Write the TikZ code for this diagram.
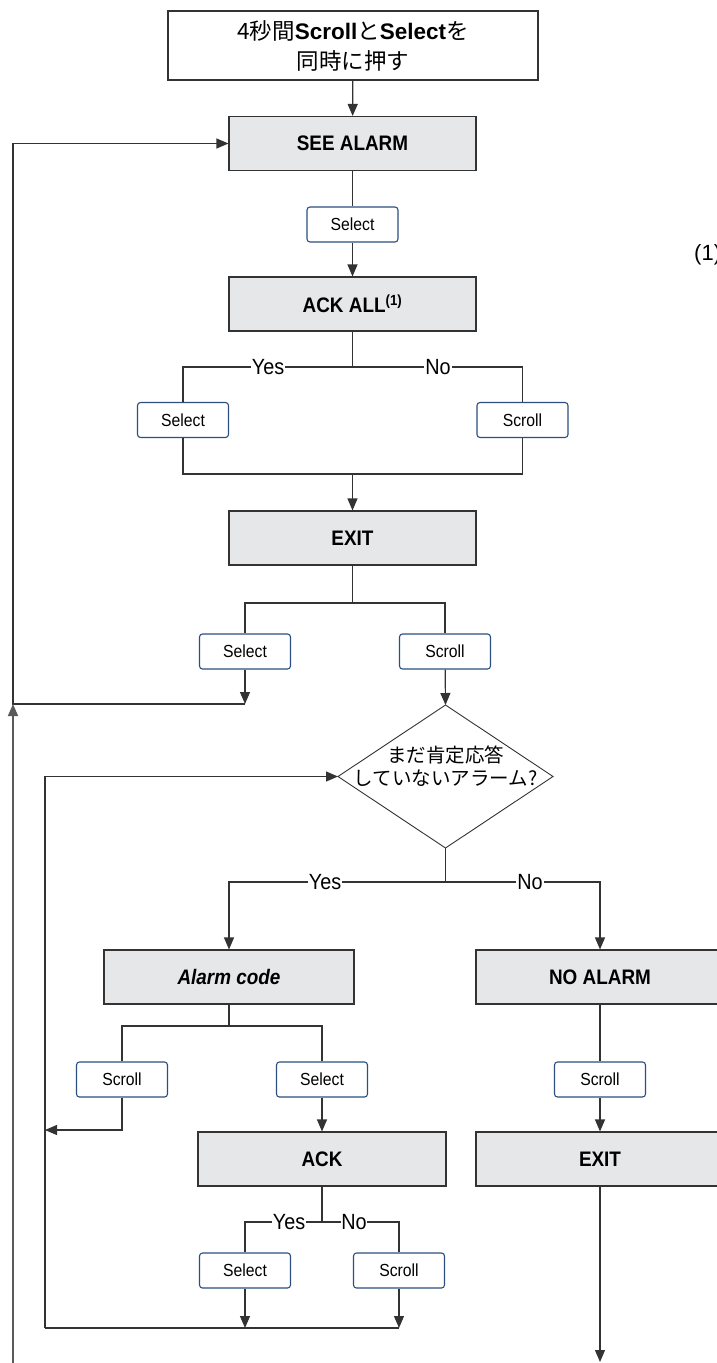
\documentclass[tikz,border=0pt]{standalone}
\usepackage{fontspec}
\setmainfont{Liberation Sans}[FakeStretch=0.9]
\newfontfamily\plainsans{Liberation Sans}
\newfontfamily\jp{Noto Sans CJK JP}
\usetikzlibrary{arrows.meta}
\definecolor{lineC}{HTML}{333333}
\definecolor{grayF}{HTML}{E6E7E8}
\definecolor{blueC}{HTML}{2B4F80}
\definecolor{outerC}{HTML}{5A5A5A}
\tikzset{
  proc/.style={rectangle, draw=lineC, fill=grayF, line width=1.1pt, minimum width=247pt, minimum height=54pt, inner sep=0pt, font=\fontsize{21}{25}\selectfont\bfseries},
  keybox/.style={rectangle, rounded corners=3pt, draw=blueC, fill=white, line width=1.1pt, minimum width=91pt, minimum height=35pt, inner sep=0pt, font=\fontsize{17.5}{20}\selectfont},
  lab/.style={fill=white, inner sep=1pt, font=\fontsize{22}{24}\selectfont},
  conn/.style={draw=lineC, line width=1.2pt},
  arr/.style={conn, -{Triangle[width=10pt,length=12pt]}},
}
\begin{document}
\begin{tikzpicture}[x=1pt,y=-1pt]
\useasboundingbox (0,0) rectangle (717,1363);
% top box
\node[rectangle, draw=lineC, line width=1.1pt, minimum width=370pt, minimum height=69pt, inner sep=0pt, align=center, font=\plainsans\fontsize{22.5}{30}\selectfont] (top) at (353,45.5)
  {{\jp 4秒間}{\bfseries Scroll}{\jp と}{\bfseries Select}{\jp を}\\{\jp 同時に押す}};
\node[proc] (see) at (352.5,143.5) {SEE ALARM};
\node[keybox] (sel1) at (352.5,224.5) {Select};
\node[proc] (ackall) at (352.5,304) {ACK ALL\textsuperscript{(1)}};
\node[keybox] (sel2) at (183,420) {Select};
\node[keybox] (scr2) at (522.5,420) {Scroll};
\node[proc] (exit1) at (352.5,538) {EXIT};
\node[keybox] (sel3) at (245,651.5) {Select};
\node[keybox] (scr3) at (445,651.5) {Scroll};
% diamond
\coordinate (qt) at (445.5,705);
\coordinate (ql) at (338,776.5);
\coordinate (qr) at (553,776.5);
\coordinate (qb) at (445.5,848);
\draw[draw=lineC, line width=0.9pt] (qt) -- (qr) -- (qb) -- (ql) -- cycle;
\node[align=center, inner sep=0pt, font=\jp\fontsize{19.5}{23}\selectfont] (q) at (445.5,766) {まだ肯定応答\\していないアラーム?};
\node[proc, minimum width=250pt, font=\fontsize{21}{25}\selectfont\bfseries\itshape] (acode) at (229,977) {Alarm code};
\node[proc, minimum width=248pt] (noal) at (600,977) {NO ALARM};
\node[keybox] (scr4) at (122,1079.5) {Scroll};
\node[keybox] (sel4) at (322,1079.5) {Select};
\node[keybox] (scr6) at (600,1079.5) {Scroll};
\node[proc, minimum width=248pt] (ack) at (322,1159) {ACK};
\node[proc, minimum width=248pt] (exit2) at (600,1159) {EXIT};
\node[keybox] (sel5) at (245,1270.5) {Select};
\node[keybox] (scr5) at (399,1270.5) {Scroll};
\node[font=\plainsans\fontsize{22}{24}\selectfont, anchor=west, inner sep=0pt] (note) at (694,255) {(1)};
% helper coordinates
\coordinate (outL) at (13,704);
\coordinate (outB) at (13,1363);
\coordinate (outT) at (13,143.5);
\coordinate (inL) at (45,1328);
\coordinate (inT) at (45,776.5);
\coordinate (j1) at (352.5,474);
\coordinate (b3) at (352.5,603);
\coordinate (e3) at (245,704);
\coordinate (d1) at (445.5,882);
\coordinate (b4) at (229,1026);
\coordinate (t4) at (45,1130);
\coordinate (b5) at (322,1222);
\coordinate (e5l) at (245,1328);
\coordinate (e5r) at (399,1328);
\coordinate (endD) at (600,1362);
% connectors
\draw[arr] (top) -- (see);
\draw[conn] (see) -- (sel1);
\draw[arr] (sel1) -- (ackall);
\draw[conn] (ackall.south) -- (352.5,367) -| (sel2.north);
\draw[conn] (352.5,367) -| (scr2.north);
\draw[conn] (sel2.south) |- (j1) -| (scr2.south);
\draw[arr] (j1) -- (exit1);
\draw[conn] (exit1.south) -- (b3) -| (sel3.north);
\draw[conn] (b3) -| (scr3.north);
\draw[arr] (sel3) -- (e3);
\draw[arr] (scr3) -- (qt);
\draw[arr] (e3) -- (outL) -- (outT) -- (see.west);
\draw[arr, draw=outerC, line width=1.6pt] (outB) -- (outL);
\draw[conn] (qb) -- (d1);
\draw[arr] (d1) -| (acode.north);
\draw[arr] (d1) -| (noal.north);
\draw[conn] (acode.south) -- (b4) -| (scr4.north);
\draw[conn] (b4) -| (sel4.north);
\draw[arr] (scr4.south) |- (t4);
\draw[arr] (sel4) -- (ack);
\draw[conn] (ack.south) -- (b5) -| (sel5.north);
\draw[conn] (b5) -| (scr5.north);
\draw[arr] (sel5) -- (e5l);
\draw[arr] (scr5) -- (e5r);
\draw[conn] (e5r) -- (inL);
\draw[arr] (inL) -- (inT) -- (ql);
\draw[conn] (noal) -- (scr6);
\draw[arr] (scr6) -- (exit2);
\draw[arr] (exit2) -- (endD);
% branch labels
\node[lab] (y1) at (268,367) {Yes};
\node[lab] (n1) at (438,367) {No};
\node[lab] (y2) at (325,882) {Yes};
\node[lab] (n2) at (530,882) {No};
\node[lab, inner sep=0.5pt] (y3) at (289,1222) {Yes};
\node[lab, inner sep=0.5pt] (n3) at (354,1222) {No};
\end{tikzpicture}
\end{document}
